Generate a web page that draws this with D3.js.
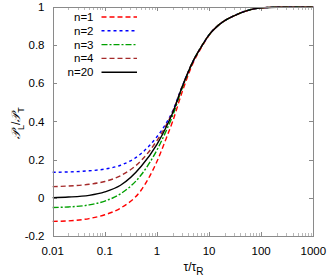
<!DOCTYPE html>
<html>
<head>
<meta charset="utf-8">
<script src="https://cdn.jsdelivr.net/npm/d3@7"></script>
<style>
  body { margin: 0; background: #fff; }
  svg { display: block; }
  text { font-family: "Liberation Sans", Arial, sans-serif; fill: #000; }
</style>
</head>
<body>
<div id="chart"></div>
<script>
// values, tau/tau_R on a log axis
const tau = [0.01, 0.02, 0.05, 0.1, 0.2, 0.5, 1, 1.5, 2, 3, 5, 7, 10, 15, 20, 30, 50, 100, 200, 1000];

const n1  = [-0.125, -0.122, -0.11, -0.09, -0.055, 0.04, 0.19, 0.31, 0.40, 0.55, 0.71, 0.785, 0.853, 0.905, 0.93, 0.955, 0.98, 0.997, 1.0, 1.0];
const n2  = [0.133, 0.135, 0.141, 0.15, 0.17, 0.232, 0.32, 0.39, 0.455, 0.58, 0.72, 0.79, 0.855, 0.905, 0.93, 0.955, 0.98, 0.997, 1.0, 1.0];
const n3  = [-0.052, -0.049, -0.038, -0.018, 0.02, 0.12, 0.25, 0.35, 0.43, 0.57, 0.72, 0.79, 0.855, 0.905, 0.93, 0.955, 0.98, 0.997, 1.0, 1.0];
const n4  = [0.058, 0.061, 0.07, 0.085, 0.115, 0.195, 0.30, 0.38, 0.45, 0.578, 0.72, 0.79, 0.855, 0.905, 0.93, 0.955, 0.98, 0.997, 1.0, 1.0];
const n20 = [0.0, 0.003, 0.012, 0.03, 0.065, 0.165, 0.28, 0.37, 0.445, 0.577, 0.72, 0.79, 0.855, 0.905, 0.93, 0.955, 0.98, 0.997, 1.0, 1.0];

const seriesNames = ["n=1", "n=2", "n=3", "n=4", "n=20"];
const seriesValues = [n1, n2, n3, n4, n20];
const colors = ["#ff0000", "#0000ff", "#00a000", "#a52a2a", "#000000"];
const dashes = ["5,3", "3,3", "6,2,2,2", "5,3", null];

const xTicks = [0.01, 0.1, 1, 10, 100, 1000];
const xTickLabels = ["0.01", "0.1", "1", "10", "100", "1000"];
const yTicks = [-0.2, 0, 0.2, 0.4, 0.6, 0.8, 1];
const yTickLabels = ["-0.2", "0", "0.2", "0.4", "0.6", "0.8", "1"];

const W = 332, H = 279;
const M = {left: 52.7, right: 313.3, top: 7.3, bottom: 235.7};

const svg = d3.select("#chart").append("svg")
    .attr("width", W)
    .attr("height", H);

const x = d3.scaleLog().domain([0.01, 1000]).range([M.left, M.right]);
const y = d3.scaleLinear().domain([-0.2, 1]).range([M.bottom, M.top]);

const borderColor = "#8a8a8a";

// minor ticks on the log axis
let minor = [];
for (let d = 0.01; d < 999; d *= 10)
    for (let k = 2; k <= 9; k++) minor.push(d * k);

const tickG = svg.append("g")
    .attr("stroke", borderColor)
    .attr("stroke-width", 1)
    .attr("shape-rendering", "crispEdges");

const px = v => Math.round(x(v)) + 0.5;
const py = v => Math.round(y(v)) + 0.5;

tickG.selectAll(".xmin")
    .data(minor)
    .join("line")
    .attr("stroke-opacity", 0.6)
    .attr("x1", px).attr("x2", px)
    .attr("y1", M.bottom).attr("y2", M.bottom - 2.5);
tickG.selectAll(".xmint")
    .data(minor)
    .join("line")
    .attr("stroke-opacity", 0.6)
    .attr("x1", px).attr("x2", px)
    .attr("y1", M.top).attr("y2", M.top + 2.5);

tickG.selectAll(".xmaj")
    .data(xTicks.slice(1, -1))
    .join("line")
    .attr("x1", px).attr("x2", px)
    .attr("y1", M.bottom).attr("y2", M.bottom - 4);
tickG.selectAll(".xmajt")
    .data(xTicks.slice(1, -1))
    .join("line")
    .attr("x1", px).attr("x2", px)
    .attr("y1", M.top).attr("y2", M.top + 4);

tickG.selectAll(".ymaj")
    .data(yTicks.slice(1, -1))
    .join("line")
    .attr("x1", M.left).attr("x2", M.left + 4)
    .attr("y1", py).attr("y2", py);
tickG.selectAll(".ymajr")
    .data(yTicks.slice(1, -1))
    .join("line")
    .attr("x1", M.right).attr("x2", M.right - 4)
    .attr("y1", py).attr("y2", py);

// tick labels
svg.append("g").selectAll("text")
    .data(xTicks)
    .join("text")
    .attr("x", d => x(d))
    .attr("y", 255)
    .attr("text-anchor", "middle")
    .style("font-size", "11.5px")
    .text((d, i) => xTickLabels[i]);

svg.append("g").selectAll("text")
    .data(yTicks)
    .join("text")
    .attr("x", 44.5)
    .attr("y", d => y(d) + 4)
    .attr("text-anchor", "end")
    .style("font-size", "11.5px")
    .text((d, i) => yTickLabels[i]);

// curves
const line = d3.line()
    .x(d => x(d[0]))
    .y(d => y(d[1]))
    .curve(d3.curveMonotoneX);

const plot = svg.append("g");
seriesValues.forEach((vals, i) => {
    plot.append("path")
        .datum(tau.map((t, j) => [t, vals[j]]))
        .attr("fill", "none")
        .attr("stroke", colors[i])
        .attr("stroke-width", 1.4)
        .attr("stroke-dasharray", dashes[i])
        .attr("d", line);
});

// border
svg.append("rect")
    .attr("x", Math.round(M.left) + 0.5)
    .attr("y", Math.round(M.top) + 0.5)
    .attr("width", Math.round(M.right) - Math.round(M.left))
    .attr("height", Math.round(M.bottom) - Math.round(M.top))
    .attr("fill", "none")
    .attr("stroke", borderColor)
    .attr("shape-rendering", "crispEdges");

// legend
const legend = svg.append("g");
seriesNames.forEach((name, i) => {
    const ly = 17 + i * 13.8;
    legend.append("text")
        .attr("x", 93.5)
        .attr("y", ly + 4)
        .attr("text-anchor", "end")
        .style("font-size", "11.5px")
        .text(name);
    legend.append("line")
        .attr("x1", 101.5).attr("x2", 137)
        .attr("y1", ly).attr("y2", ly)
        .attr("stroke", colors[i])
        .attr("stroke-width", 1.4)
        .attr("stroke-dasharray", dashes[i]);
});

// axis labels
const xl = svg.append("text")
    .attr("x", 183.5)
    .attr("y", 271)
    .style("font-size", "12px");
xl.append("tspan").text("τ/τ");
xl.append("tspan").attr("dy", 4).style("font-size", "10px").text("R");

const yl = svg.append("text")
    .attr("transform", "translate(20,139) rotate(-90)")
    .style("font-size", "12px");
yl.append("tspan").style("font-family", "'DejaVu Serif', serif").style("font-style", "italic").text("𝒫");
yl.append("tspan").attr("dy", 4).style("font-size", "9px").text("L");
yl.append("tspan").attr("dy", -4).text("/");
yl.append("tspan").style("font-family", "'DejaVu Serif', serif").style("font-style", "italic").text("𝒫");
yl.append("tspan").attr("dy", 4).style("font-size", "9px").text("T");
</script>
</body>
</html>
